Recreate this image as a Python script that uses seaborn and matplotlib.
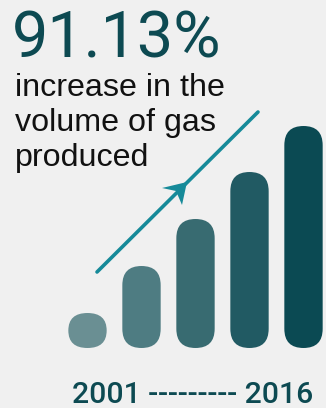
import matplotlib
matplotlib.use("Agg")
import matplotlib.pyplot as plt
import matplotlib.patches as mpatches
import seaborn as sns
import pandas as pd

# ---- data ----
years = ["Y1", "Y2", "Y3", "Y4", "Y5"]
heights = [35, 82, 129, 176, 222]
bar_colors = ["#6a8f93", "#4e7c82", "#386b71", "#215a63", "#0b4a53"]
headline = "91.13%"
subtitle_lines = ["increase in the", "volume of gas", "produced"]
range_label = "2001 --------- 2016"

BG = "#f0f0f0"
DARK = "#0d4a52"
ARROW = "#168a99"

sns.set_theme(style="white")
plt.rcParams["font.family"] = ["Roboto", "DejaVu Sans"]

W, H = 326, 408
fig = plt.figure(figsize=(W / 100, H / 100), dpi=100)
fig.patch.set_facecolor(BG)

# bar axes: x in category units (54 px each), y in pixel units
px_per_cat = 54.0
x0_px = 87.5
base_px = 348
ax = fig.add_axes([0, 0, 1, 1])
ax.set_facecolor(BG)
df = pd.DataFrame({"year": years, "h": heights})
sns.barplot(data=df, x="year", y="h", hue="year", palette=bar_colors,
            width=0.71, legend=False, ax=ax, saturation=1)
ax.set_xlim(-x0_px / px_per_cat, (W - x0_px) / px_per_cat)
ax.set_ylim(-(H - base_px), base_px)
ax.axis("off")

for p in list(ax.patches):
    x, y = p.get_x(), p.get_y()
    w, h = p.get_width(), p.get_height()
    c = p.get_facecolor()
    rx = w / 2
    ry = min(w / 2 * px_per_cat, h / 2)
    fb = mpatches.FancyBboxPatch((x, y), w, h,
                                 boxstyle=f"round,pad=0,rounding_size={rx}",
                                 mutation_aspect=ry / rx,
                                 facecolor=c, edgecolor="none")
    p.remove()
    ax.add_patch(fb)

# overlay axes in pixel coordinates for decorations
ov = fig.add_axes([0, 0, 1, 1], zorder=5)
ov.set_xlim(0, W)
ov.set_ylim(H, 0)
ov.axis("off")
ov.patch.set_alpha(0)

ov.plot([97, 258], [272, 112], color=ARROW, lw=2.6, solid_capstyle="round")
ov.add_patch(mpatches.Polygon([(187, 182), (162, 188), (176, 191), (182, 205)],
                              closed=True, facecolor=ARROW, edgecolor="none"))

ov.text(12, 57, headline, fontsize=46.5, color=DARK, family="Roboto",
        ha="left", va="baseline")
for line, yb in zip(subtitle_lines, [96, 131, 166]):
    ov.text(15, yb, line, fontsize=23.2, color="#111111",
            family="Liberation Sans", ha="left", va="baseline")
ov.text(72, 403, range_label, fontsize=21.7, color=DARK, family="Roboto",
        fontweight="medium", ha="left", va="baseline")

fig.savefig("out.png", dpi=100, facecolor=BG)
